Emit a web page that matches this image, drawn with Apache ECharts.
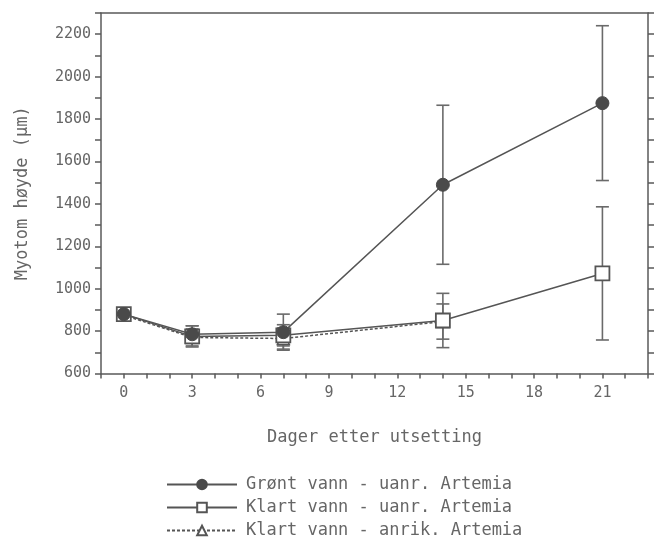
<!DOCTYPE html>
<html>
<head>
<meta charset="utf-8">
<script src="https://cdn.jsdelivr.net/npm/echarts@6/dist/echarts.min.js"></script>
<style>
html,body{margin:0;padding:0;background:#ffffff;}
#c{width:665px;height:541px;}
</style>
</head>
<body>
<div id="c"></div>
<script>
// ---- data ----
const xTickLabels = [0, 3, 6, 9, 12, 15, 18, 21];
const yTickLabels = [600, 800, 1000, 1200, 1400, 1600, 1800, 2000, 2200];

const daysGronn = [0, 3, 7, 14, 21];
const gronnUanr = [880, 785, 795, 1490, 1875];
const gronnUanrErr = [0, 40, 85, 375, 365];

const daysKlartUanr = [0, 3, 7, 14, 21];
const klartUanr = [880, 775, 780, 850, 1072];
const klartUanrErr = [0, 50, 50, 128, 314];

const daysKlartAnrik = [0, 3, 7, 14];
const klartAnrik = [875, 770, 765, 845];
const klartAnrikErr = [0, 40, 50, 83];

const names = [
  'Grønt vann - uanr. Artemia',
  'Klart vann - uanr. Artemia',
  'Klart vann - anrik. Artemia'
];
const xTitle = 'Dager etter utsetting';
const yTitle = 'Myotom høyde (µm)';

// ---- style ----
const FONT = 'DejaVu Sans Mono';
const TXT = '#666666';
const LINE = '#5a5a5a';

function pts(xs, ys) { return xs.map((x, i) => [x, ys[i]]); }
function errData(xs, ys, es) {
  return xs.map((x, i) => [x, ys[i] - es[i], ys[i] + es[i], es[i]]);
}
function errSeries(name, data) {
  return {
    type: 'custom',
    name: name,
    data: data,
    encode: { x: 0, y: [1, 2] },
    z: 1,
    silent: true,
    renderItem: function (params, api) {
      if (api.value(3) <= 0) return null;
      const x = api.value(0);
      const lo = api.coord([x, api.value(1)]);
      const hi = api.coord([x, api.value(2)]);
      const w = 6.5;
      const st = { stroke: '#6a6a6a', lineWidth: 1.6 };
      return {
        type: 'group',
        children: [
          { type: 'line', shape: { x1: lo[0], y1: lo[1], x2: hi[0], y2: hi[1] }, style: st },
          { type: 'line', shape: { x1: lo[0] - w, y1: lo[1], x2: lo[0] + w, y2: lo[1] }, style: st },
          { type: 'line', shape: { x1: hi[0] - w, y1: hi[1], x2: hi[0] + w, y2: hi[1] }, style: st }
        ]
      };
    }
  };
}

const chart = echarts.init(document.getElementById('c'), null, { renderer: 'canvas' });
const axisLineStyle = { color: LINE, width: 1.5 };

chart.setOption({
  backgroundColor: '#ffffff',
  animation: false,
  textStyle: { fontFamily: FONT, color: TXT },
  grid: { left: 101, right: 17, top: 13, bottom: 167.5 },
  legend: {
    data: names,
    orient: 'vertical',
    left: 166,
    top: 476,
    padding: 0,
    itemWidth: 70,
    itemHeight: 12,
    itemGap: 6,
    textStyle: { fontFamily: FONT, fontSize: 17, color: TXT, lineHeight: 16, padding: [0, 0, 0, 4] }
  },
  xAxis: [{
    type: 'value',
    min: -1, max: 23, interval: 1,
    position: 'bottom',
    name: xTitle,
    nameLocation: 'middle',
    nameGap: 56,
    nameTextStyle: { fontFamily: FONT, fontSize: 17, color: TXT },
    axisLine: { show: true, onZero: false, lineStyle: axisLineStyle },
    axisTick: { show: true, inside: false, length: 5, lineStyle: axisLineStyle },
    axisLabel: {
      fontFamily: FONT, fontSize: 15, color: TXT, margin: 12,
      formatter: v => xTickLabels.indexOf(v) >= 0 ? String(v) : ''
    },
    splitLine: { show: false }
  }, {
    type: 'value',
    min: -1, max: 23, interval: 1,
    position: 'top',
    axisLine: { show: true, onZero: false, lineStyle: axisLineStyle },
    axisTick: { show: false },
    axisLabel: { show: false },
    splitLine: { show: false }
  }],
  yAxis: [{
    type: 'value',
    min: 600, max: 2300, interval: 100,
    position: 'left',
    name: yTitle,
    nameLocation: 'middle',
    nameGap: 70,
    nameRotate: 90,
    nameTextStyle: { fontFamily: FONT, fontSize: 17, color: TXT },
    axisLine: { show: true, onZero: false, lineStyle: axisLineStyle },
    axisTick: { show: true, inside: false, length: 6, lineStyle: axisLineStyle },
    axisLabel: {
      fontFamily: FONT, fontSize: 15, color: TXT, margin: 10,
      formatter: v => yTickLabels.indexOf(v) >= 0 ? String(v) : ''
    },
    splitLine: { show: false }
  }, {
    type: 'value',
    min: 600, max: 2300, interval: 100,
    position: 'right',
    axisLine: { show: true, onZero: false, lineStyle: axisLineStyle },
    axisTick: { show: true, inside: false, length: 6, lineStyle: axisLineStyle },
    axisLabel: { show: false },
    splitLine: { show: false }
  }],
  series: [
    errSeries('errGronn', errData(daysGronn, gronnUanr, gronnUanrErr)),
    errSeries('errKlartUanr', errData(daysKlartUanr, klartUanr, klartUanrErr)),
    errSeries('errKlartAnrik', errData(daysKlartAnrik, klartAnrik, klartAnrikErr)),
    {
      name: names[2],
      type: 'line',
      data: pts(daysKlartAnrik, klartAnrik),
      symbol: 'triangle',
      symbolSize: 12,
      z: 3,
      lineStyle: { color: '#555', width: 1.5, type: [3, 2] },
      itemStyle: { color: '#ffffff', borderColor: '#555', borderWidth: 1.5 }
    },
    {
      name: names[1],
      type: 'line',
      data: pts(daysKlartUanr, klartUanr),
      symbol: 'rect',
      symbolSize: 14,
      z: 4,
      lineStyle: { color: '#555', width: 1.5 },
      itemStyle: { color: '#ffffff', borderColor: '#555', borderWidth: 1.8 }
    },
    {
      name: names[0],
      type: 'line',
      data: pts(daysGronn, gronnUanr),
      symbol: 'circle',
      symbolSize: 13,
      z: 5,
      lineStyle: { color: '#555', width: 1.5 },
      itemStyle: { color: '#4a4a4a', borderColor: '#4a4a4a', borderWidth: 1 }
    }
  ]
});
</script>
</body>
</html>
